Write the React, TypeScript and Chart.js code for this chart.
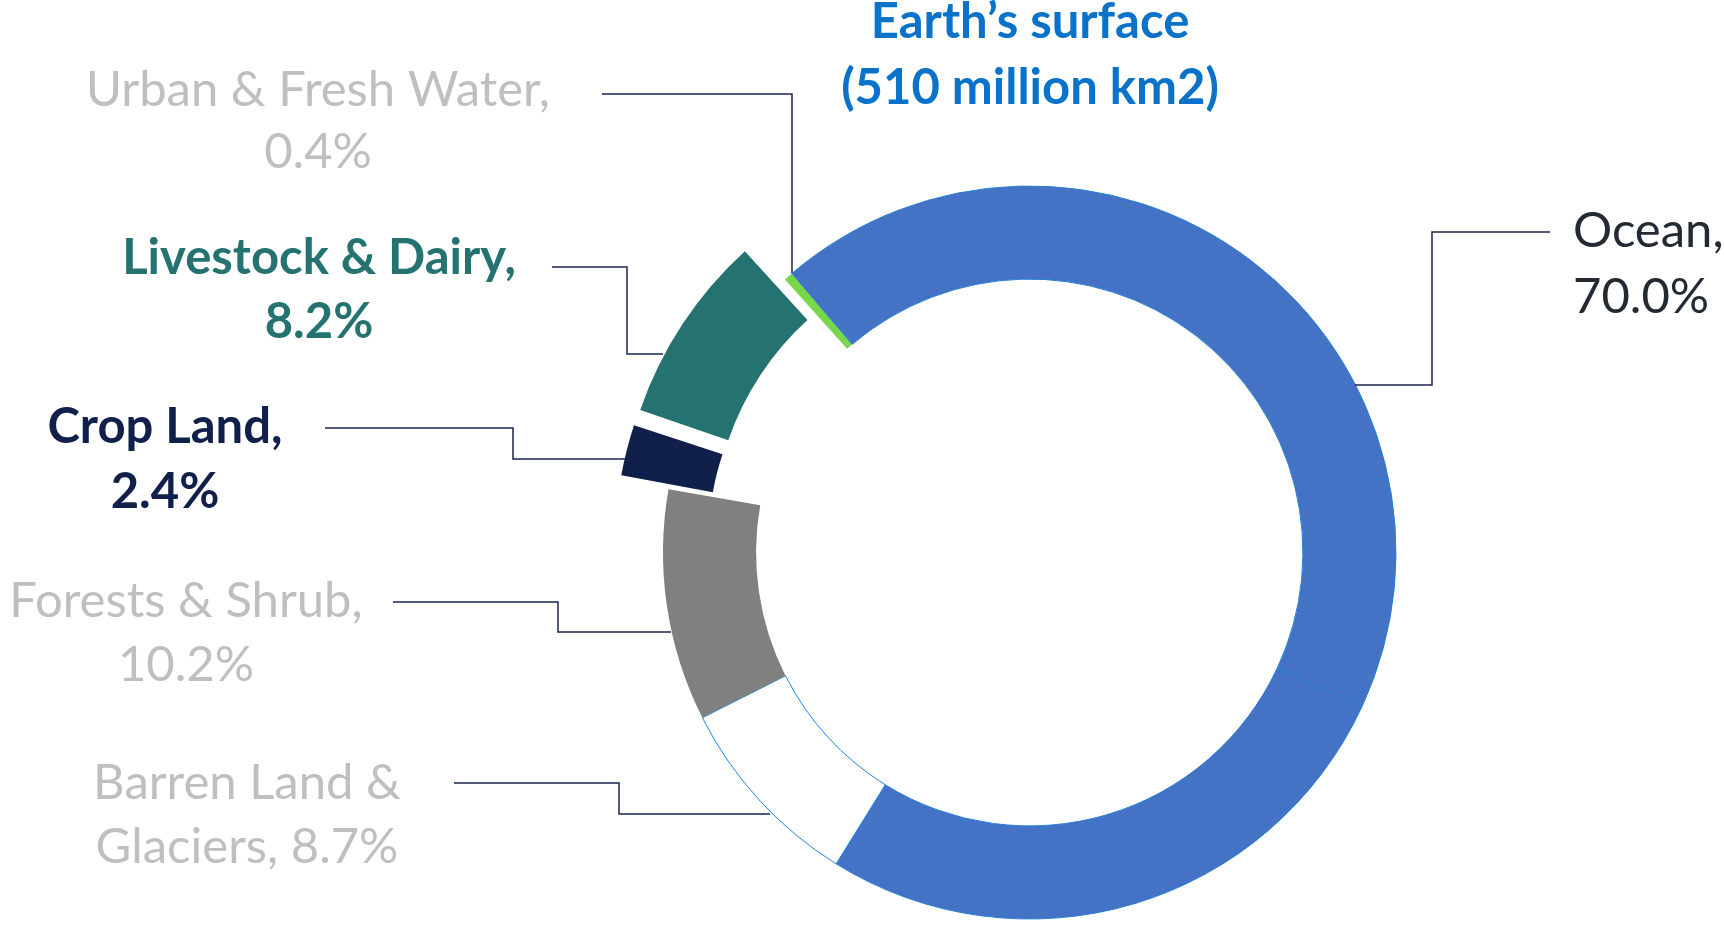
import React, { useEffect, useRef } from 'react';
import { Chart, registerables } from 'chart.js';

Chart.register(...registerables);

// ---- data ----
// The ocean ring is drawn as two adjoining pieces (a seam is visible in the reference).
const categories = [
  'Ocean',
  'Barren Land & Glaciers',
  'Forests & Shrub',
  'Crop Land',
  'Livestock & Dairy',
  'Urban & Fresh Water',
  'Ocean',
];
const shares = [26.9, 8.7, 10.2, 2.4, 8.2, 0.4, 43.1];
const sliceColors = ['#4472C4', '#FFFFFF', '#808080', '#10204B', '#257370', '#78D64B', '#4472C4'];
const sliceBorderColors = ['#2a7fd6', '#1f84e0', '#808080', '#10204B', '#257370', '#78D64B', '#2a7fd6'];
const sliceBorderWidths = [1, 1, 0, 0, 0, 0, 1];
const sliceOffsets = [0, 0, 0, 106, 130, 0, 0];

const titleLines = ['Earth’s surface', '(510 million km2)'];

const labelTexts = [
  ['Ocean,', '70.0%'],
  ['Barren Land &', 'Glaciers, 8.7%'],
  ['Forests & Shrub,', '10.2%'],
  ['Crop Land,', '2.4%'],
  ['Livestock & Dairy,', '8.2%'],
  ['Urban & Fresh Water,', '0.4%'],
];

// ---- layout / style ----
const FONT = "Lato, 'Noto Sans', sans-serif";
const FONT_SIZE = 49;
const labelStyles = [
  { x: 1573, y: [247, 313], align: 'left', color: '#242a33', bold: false },
  { x: 247, y: [799, 863], align: 'center', color: '#BFBFBF', bold: false },
  { x: 186, y: [617, 681], align: 'center', color: '#BFBFBF', bold: false },
  { x: 165, y: [443, 508], align: 'center', color: '#10204B', bold: true },
  { x: 319, y: [274, 338], align: 'center', color: '#257370', bold: true },
  { x: 318, y: [106, 168], align: 'center', color: '#BFBFBF', bold: false },
];
const leaderPaths = [
  [[1550, 232], [1432, 232], [1432, 385], [1355, 385]],
  [[454, 783], [619, 783], [619, 814], [770, 814]],
  [[393, 602], [558, 602], [558, 632], [671, 632]],
  [[325, 428], [513, 428], [513, 459], [625, 459]],
  [[552, 267], [627, 267], [627, 354], [663, 354]],
  [[602, 94], [792, 94], [792, 273]],
];
const titleStyle = { x: 1030, y: [38, 104], color: '#0a72c8' };

const annotationsPlugin = {
  id: 'annotations',
  afterDraw(chart: any) {
    const ctx: CanvasRenderingContext2D = chart.ctx;
    ctx.save();
    ctx.strokeStyle = '#1b2650';
    ctx.lineWidth = 1.5;
    for (const path of leaderPaths) {
      ctx.beginPath();
      path.forEach(([x, y], i) => (i ? ctx.lineTo(x, y) : ctx.moveTo(x, y)));
      ctx.stroke();
    }
    ctx.textBaseline = 'alphabetic';
    labelTexts.forEach((lines, i) => {
      const s = labelStyles[i];
      ctx.font = `${s.bold ? 'bold ' : ''}${FONT_SIZE}px ${FONT}`;
      ctx.fillStyle = s.color;
      ctx.textAlign = s.align as CanvasTextAlign;
      lines.forEach((t, j) => ctx.fillText(t, s.x, s.y[j]));
    });
    ctx.font = `bold ${FONT_SIZE}px ${FONT}`;
    ctx.fillStyle = titleStyle.color;
    ctx.textAlign = 'center';
    titleLines.forEach((t, j) => ctx.fillText(t, titleStyle.x, titleStyle.y[j]));
    ctx.restore();
  },
};

export default function App() {
  const ref = useRef<HTMLCanvasElement | null>(null);
  useEffect(() => {
    if (!ref.current) return;
    const chart = new Chart(ref.current, {
      type: 'doughnut',
      data: {
        labels: categories,
        datasets: [
          {
            data: shares,
            backgroundColor: sliceColors,
            borderColor: sliceBorderColors,
            borderWidth: sliceBorderWidths,
            offset: sliceOffsets,
            hoverOffset: 0,
          },
        ],
      },
      options: {
        responsive: false,
        animation: false,
        rotation: 114.9,
        radius: 366.5,
        cutout: '74.6%',
        layout: { padding: { left: 335, right: 0, top: 179, bottom: 0 } },
        plugins: {
          legend: { display: false },
          tooltip: { enabled: false },
          title: { display: false },
        },
        events: [],
      },
      plugins: [annotationsPlugin],
    });
    return () => chart.destroy();
  }, []);
  return (
    <div style={{ position: 'absolute', left: 0, top: 0, width: 1724, height: 926, background: '#fff' }}>
      <canvas ref={ref} width={1724} height={926} style={{ display: 'block' }} />
    </div>
  );
}
